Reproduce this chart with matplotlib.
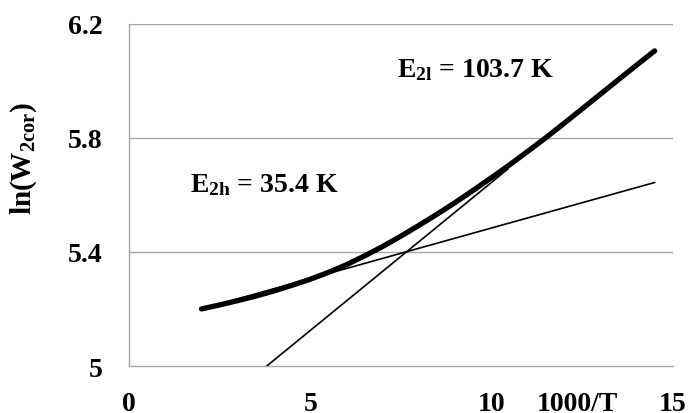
import matplotlib
matplotlib.use("Agg")
import matplotlib.pyplot as plt
import matplotlib.transforms as mtransforms

# thick measured curve: ln(W2cor) vs 1000/T
inv_t = [2.0, 2.5, 3.0, 3.5, 4.0, 4.5, 5.0, 5.5, 6.0, 6.5, 7.0, 7.5, 8.0,
         8.5, 9.0, 9.5, 10.0, 10.5, 11.0, 11.5, 12.0, 12.5, 13.0, 13.5, 14.0, 14.5]
ln_w = [5.200, 5.214, 5.229, 5.245, 5.263, 5.283, 5.304, 5.328, 5.355, 5.386,
        5.419, 5.455, 5.493, 5.532, 5.573, 5.616, 5.660, 5.705, 5.752, 5.800,
        5.850, 5.901, 5.952, 6.003, 6.054, 6.104]

# high-temperature fit (E2h = 35.4 K)
fit_h_x = [2.0, 14.5]
fit_h_y = [5.200, 5.643]

# low-temperature fit (E2l = 103.7 K)
fit_l_x = [3.8, 10.45]
fit_l_y = [5.000, 5.690]

x_ticks = [0, 5, 10, 15]
y_ticks = [5, 5.4, 5.8, 6.2]
y_tick_labels = ["5", "5.4", "5.8", "6.2"]

plt.rcParams['font.family'] = ['Liberation Serif', 'DejaVu Serif']
plt.rcParams['font.weight'] = 'bold'
plt.rcParams['mathtext.fontset'] = 'custom'
plt.rcParams['mathtext.rm'] = 'Liberation Serif:bold'
plt.rcParams['mathtext.it'] = 'Liberation Serif:bold'
plt.rcParams['mathtext.bf'] = 'Liberation Serif:bold'

FS = 20

fig = plt.figure(figsize=(6.9, 4.14), dpi=100)
ax = fig.add_axes([0.187, 0.1135, 0.788, 0.8273])

grid_color = "#a6a6a6"
for yv in y_ticks[1:]:
    ax.axhline(yv, color=grid_color, lw=1.0, zorder=1)

ax.plot(fit_h_x, fit_h_y, color="black", lw=1.2, zorder=3)
ax.plot(fit_l_x, fit_l_y, color="black", lw=1.2, zorder=3)
ax.plot(inv_t, ln_w, color="black", lw=3.8, solid_capstyle='round', zorder=4)

ax.set_xlim(0, 15)
ax.set_ylim(5, 6.2)
ax.set_xticks(x_ticks)
ax.set_yticks(y_ticks)
ax.set_yticklabels(y_tick_labels)
ax.tick_params(axis='both', length=0, labelsize=FS)
ax.tick_params(axis='x', pad=18)
ax.tick_params(axis='y', pad=19)

for side in ["top", "right"]:
    ax.spines[side].set_visible(False)
for side in ["left", "bottom"]:
    ax.spines[side].set_color(grid_color)
    ax.spines[side].set_linewidth(1.0)

ax.set_ylabel(r"ln(W$_{\mathrm{2cor}}$)", fontsize=21, fontweight='bold')
ax.yaxis.set_label_coords(-0.166, 0.61)

ax.text(7.4, 6.015, r"E$_{\mathrm{2l}}$ = 103.7 K", fontsize=FS, fontweight='bold',
        ha='left', va='baseline')
ax.text(1.68, 5.614, r"E$_{\mathrm{2h}}$ = 35.4 K", fontsize=FS, fontweight='bold',
        ha='left', va='baseline')

trans = mtransforms.blended_transform_factory(ax.transData, ax.transAxes)
ax.text(12.38, -0.072, "1000/T", transform=trans, fontsize=FS, fontweight='bold',
        ha='center', va='top')

fig.savefig("out.png", dpi=100)
